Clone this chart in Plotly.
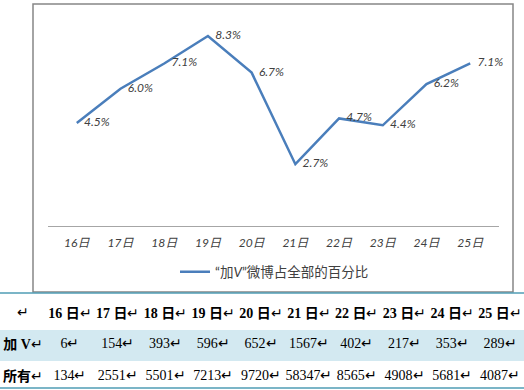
import plotly.graph_objects as go

# ---- data ----
day_nums = [16, 17, 18, 19, 20, 21, 22, 23, 24, 25]
days = [f"{d}日" for d in day_nums]
pct = [4.5, 6.0, 7.1, 8.3, 6.7, 2.7, 4.7, 4.4, 6.2, 7.1]
vplus = [6, 154, 393, 596, 652, 1567, 402, 217, 353, 289]
total = [134, 2551, 5501, 7213, 9720, 58347, 8565, 4908, 5681, 4087]
row_labels = ["加\u00a0V", "所有"]
series_name = "“加<i>V</i>”微博占全部的百分比"

W, H = 524, 390


def px_x(p):
    return p / W


def px_y(p):
    return (H - p) / H


mark = "↵"
header_vals = [mark] + [f"<b>{d}\u00a0日</b>{mark}" for d in day_nums]
cells_vals = [[f"<b>{row_labels[0]}</b>{mark}", f"<b>{row_labels[1]}</b>{mark}"]] + [
    [f"{a}{mark}", f"{b}{mark}"] for a, b in zip(vplus, total)
]

serif = "Liberation Serif, Noto Sans CJK SC"
sans = "Lato, Noto Sans CJK SC"

fig = go.Figure()

fig.add_trace(go.Scatter(
    x=days, y=pct, mode="lines+markers+text", name=series_name,
    line=dict(color="#4A7EBB", width=2.5),
    marker=dict(size=10, color="rgba(0,0,0,0)"),
    texttemplate="%{y:.1f}%", textposition="middle right",
    textfont=dict(family=sans, size=12, style="italic", color="#404040"),
    cliponaxis=False, showlegend=True,
))

fig.add_trace(go.Table(
    domain=dict(x=[0, 1], y=[px_y(389), px_y(298)]),
    columnwidth=[46] + [47.8] * 10,
    header=dict(values=header_vals, height=27, align="center",
                fill=dict(color="white"), line=dict(color="white", width=1),
                font=dict(family=serif, size=14, color="black")),
    cells=dict(values=cells_vals, height=32, align="center",
               fill=dict(color=[["#D3E9F1", "white"]]),
               line=dict(color=[["#D3E9F1", "white"]], width=1),
               font=dict(family=serif, size=14, color="black")),
))

fig.update_layout(
    width=W, height=H, margin=dict(l=0, r=0, t=0, b=0),
    paper_bgcolor="white", plot_bgcolor="white",
    xaxis=dict(domain=[px_x(48), px_x(499)], showline=True, linecolor="#A6A6A6",
               linewidth=1, showgrid=False, zeroline=False, ticks="outside",
               ticklen=6, tickcolor="rgba(0,0,0,0)",
               tickfont=dict(family=sans, size=12, style="italic", color="#404040")),
    yaxis=dict(domain=[px_y(226), px_y(20)], range=[0, 9], visible=False),
    legend=dict(orientation="h", x=px_x(175), xanchor="left", y=px_y(272),
                yanchor="middle", bgcolor="rgba(0,0,0,0)",
                font=dict(family=sans, size=13.5, color="#404040")),
    shapes=[
        dict(type="rect", xref="paper", yref="paper", x0=px_x(33), x1=px_x(513),
             y0=px_y(292), y1=px_y(4), line=dict(color="#868686", width=1.5)),
        dict(type="line", xref="paper", yref="paper", x0=0, x1=1,
             y0=px_y(293), y1=px_y(293), line=dict(color="#4F9DB5", width=1.5)),
        dict(type="line", xref="paper", yref="paper", x0=0, x1=1,
             y0=px_y(388), y1=px_y(388), line=dict(color="#4F9DB5", width=1.5)),
    ],
)

fig.write_html("out.html", config={"displayModeBar": False},
               post_script="document.body.style.margin='0';document.body.style.padding='0';")
